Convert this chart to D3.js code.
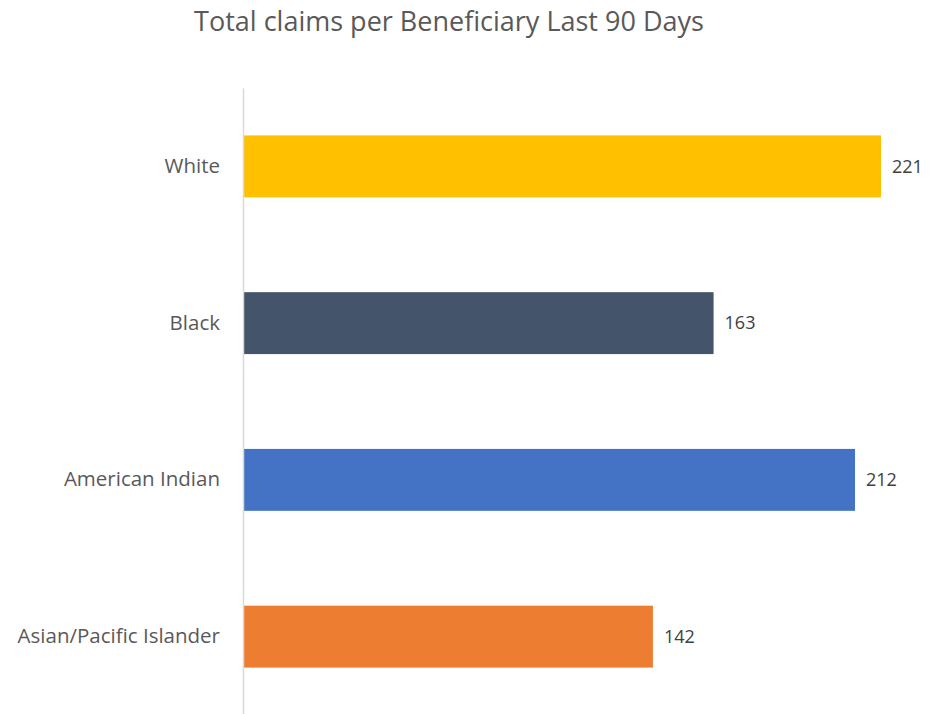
<!DOCTYPE html>
<html lang="en">
<head>
    <meta charset="UTF-8">
    <script src="https://d3js.org/d3.v7.min.js"></script>
    <style>
        body { margin: 0; background: #fff; font-family: "Open Sans", sans-serif; }
    </style>
</head>
<body>
<div id="chart"></div>
<script>
// Data
var categories = ["White", "Black", "American Indian", "Asian/Pacific Islander"];
var values = [221, 163, 212, 142];
var colors = ["#FFC000", "#44546A", "#4472C4", "#ED7D31"];

var W = 936, H = 714;
var margin = { top: 88, right: 55, bottom: 0, left: 243 },
    width = 881 - margin.left,
    height = 715 - margin.top;

var svg = d3.select("#chart")
    .append("svg")
        .attr("width", W)
        .attr("height", H);

// Title
svg.append("text")
    .attr("x", 449)
    .attr("y", 31)
    .attr("text-anchor", "middle")
    .style("font-size", "27px")
    .style("fill", "#595959")
    .text("Total claims per Beneficiary Last 90 Days");

var g = svg.append("g")
    .attr("transform", `translate(${margin.left},${margin.top})`);

var x = d3.scaleLinear()
    .domain([0, 221])
    .range([0, width]);

var y = d3.scaleBand()
    .domain(categories)
    .range([0, height])
    .paddingInner(0.605)
    .paddingOuter(0.3025);

var data = categories.map(function(c, i) { return { cat: c, value: values[i], color: colors[i] }; });

// Bars
g.selectAll(".bar")
    .data(data)
    .enter()
    .append("rect")
        .attr("x", 0)
        .attr("y", function(d) { return y(d.cat); })
        .attr("width", function(d) { return x(d.value); })
        .attr("height", y.bandwidth())
        .attr("fill", function(d) { return d.color; });

// Value labels
g.selectAll(".val")
    .data(data)
    .enter()
    .append("text")
        .attr("x", function(d) { return x(d.value) + 11; })
        .attr("y", function(d) { return y(d.cat) + y.bandwidth() / 2; })
        .attr("dy", "0.35em")
        .style("font-size", "18px")
        .style("fill", "#404040")
        .text(function(d) { return d.value; });

// Y axis
var yAxis = g.append("g").call(d3.axisLeft(y).tickSize(0).tickPadding(23));
yAxis.select(".domain").attr("stroke", "#d9d9d9").attr("stroke-width", 1.5);
yAxis.selectAll("text")
    .style("font-family", "'Open Sans', sans-serif")
    .style("font-size", "20.5px")
    .style("fill", "#595959");
</script>
</body>
</html>
